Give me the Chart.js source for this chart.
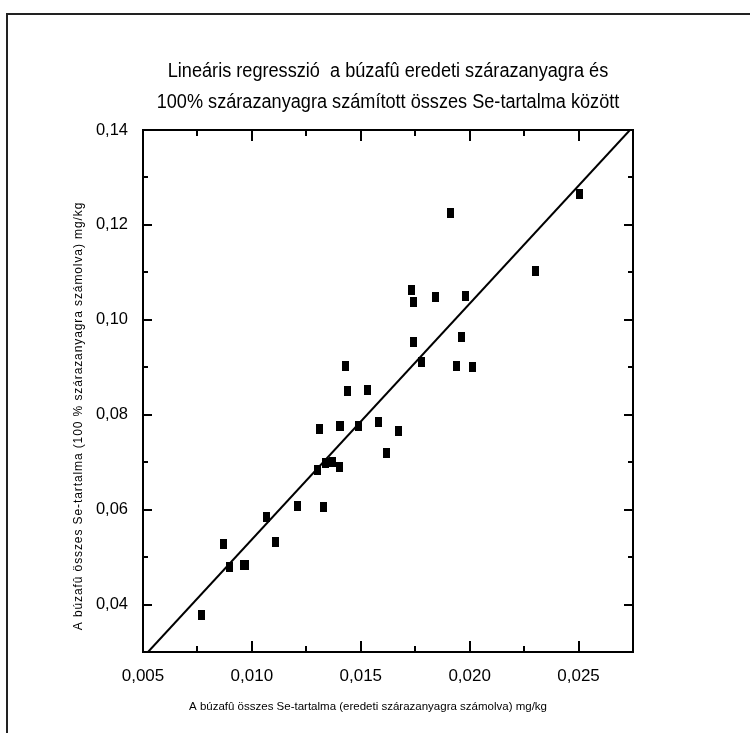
<!DOCTYPE html>
<html>
<head>
<meta charset="utf-8">
<script src="https://cdn.jsdelivr.net/npm/chart.js@4/dist/chart.umd.min.js"></script>
<style>
  html, body { margin: 0; padding: 0; background: #fff; }
  #c { display: block; }
</style>
</head>
<body>
<canvas id="c" width="750" height="733"></canvas>
<script>
// ---- data ----
const titleLines = [
  "Lineáris regresszió  a búzafû eredeti szárazanyagra és",
  "100% szárazanyagra számított összes Se-tartalma között"
];
const xAxisTitle = "A búzafû összes Se-tartalma (eredeti szárazanyagra számolva) mg/kg";
const yAxisTitle = "A búzafû összes Se-tartalma (100 % szárazanyagra számolva) mg/kg";

const xValues = [0.00770,0.00871,0.00896,0.00961,0.00970,0.01069,0.01108,0.01210,0.01299,0.01311,
                 0.01330,0.01340,0.01371,0.01400,0.01401,0.01409,0.01432,0.01440,0.01490,0.01532,
                 0.01580,0.01620,0.01672,0.01731,0.01741,0.01741,0.01781,0.01842,0.01910,0.01940,
                 0.01963,0.01982,0.02012,0.02303,0.02503];
const yValues = [0.0377,0.0527,0.0480,0.0483,0.0483,0.0585,0.0532,0.0608,0.0684,0.0769,
                 0.0605,0.0698,0.0700,0.0689,0.0776,0.0777,0.0903,0.0850,0.0776,0.0852,
                 0.0785,0.0720,0.0766,0.1063,0.1038,0.0954,0.0911,0.1048,0.1226,0.0903,
                 0.0963,0.1051,0.0900,0.1103,0.1265];

const fitX = [0.00523, 0.02736];
const fitY = [0.030, 0.140];

const xMajorTicks = [0.005, 0.010, 0.015, 0.020, 0.025];
const xMinorTicks = [0.0075, 0.0125, 0.0175, 0.0225];
const yMajorTicks = [0.04, 0.06, 0.08, 0.10, 0.12, 0.14];
const yMinorTicks = [0.05, 0.07, 0.09, 0.11, 0.13];

// ---- marker: small upright black rectangle ----
const marker = document.createElement('canvas');
marker.width = 7; marker.height = 10;
{ const m = marker.getContext('2d'); m.fillStyle = '#000'; m.fillRect(0, 0, 7, 10); }

const points = xValues.map((x, i) => ({ x: x, y: yValues[i] }));
const fitLine = fitX.map((x, i) => ({ x: x, y: fitY[i] }));

const FONT = "'Liberation Sans', Arial, sans-serif";

const decor = {
  id: 'decor',
  beforeDraw(chart) {
    const ctx = chart.ctx;
    ctx.save();
    ctx.fillStyle = '#fff';
    ctx.fillRect(0, 0, chart.width, chart.height);
    // outer frame
    ctx.strokeStyle = '#222';
    ctx.lineWidth = 2;
    ctx.strokeRect(7, 14, 800, 800);
    // title (slightly condensed)
    ctx.fillStyle = '#000';
    ctx.textAlign = 'center';
    ctx.textBaseline = 'alphabetic';
    ctx.save();
    ctx.translate(388, 0);
    ctx.scale(0.93, 1);
    ctx.font = "19.5px " + FONT;
    ctx.fillText(titleLines[0], 0, 77);
    ctx.fillText(titleLines[1], 0, 108);
    ctx.restore();
    // x axis title
    ctx.font = "11.5px " + FONT;
    ctx.fillText(xAxisTitle, 368, 710);
    // y axis title (rotated, letter-spaced)
    ctx.translate(82, 416);
    ctx.rotate(-Math.PI / 2);
    if ('letterSpacing' in ctx) ctx.letterSpacing = '0.9px';
    ctx.font = "12px " + FONT;
    ctx.fillText(yAxisTitle, 0, 0);
    ctx.restore();
  },
  afterDraw(chart) {
    const ctx = chart.ctx;
    const a = chart.chartArea;
    const xs = chart.scales.x, ys = chart.scales.y;
    ctx.save();
    ctx.strokeStyle = '#000';
    ctx.lineWidth = 2;
    ctx.beginPath();
    const tick = (vals, len, isX) => {
      vals.forEach(v => {
        if (isX) {
          const p = Math.round(xs.getPixelForValue(v));
          ctx.moveTo(p, a.bottom); ctx.lineTo(p, a.bottom - len);
          ctx.moveTo(p, a.top); ctx.lineTo(p, a.top + len);
        } else {
          const p = Math.round(ys.getPixelForValue(v));
          ctx.moveTo(a.left, p); ctx.lineTo(a.left + len, p);
          ctx.moveTo(a.right, p); ctx.lineTo(a.right - len, p);
        }
      });
    };
    tick(xMajorTicks, 11, true);
    tick(xMinorTicks, 6, true);
    tick(yMajorTicks, 9, false);
    tick(yMinorTicks, 5, false);
    ctx.stroke();
    ctx.strokeRect(a.left, a.top, a.right - a.left, a.bottom - a.top);
    ctx.restore();
  }
};

new Chart(document.getElementById('c'), {
  type: 'scatter',
  data: {
    datasets: [
      {
        label: 'fit',
        type: 'line',
        data: fitLine,
        borderColor: '#000',
        borderWidth: 2,
        pointRadius: 0,
        fill: false,
        showLine: true,
        clip: 0
      },
      {
        label: 'data',
        data: points,
        pointStyle: marker,
        pointRadius: 5,
        backgroundColor: '#000',
        borderColor: '#000'
      }
    ]
  },
  options: {
    responsive: false,
    animation: false,
    devicePixelRatio: 1,
    layout: { padding: { top: 130, right: 117, left: 0, bottom: 0 } },
    plugins: {
      legend: { display: false },
      title: { display: false },
      tooltip: { enabled: false }
    },
    scales: {
      x: {
        type: 'linear',
        min: 0.005,
        max: 0.0275,
        grid: { display: false },
        border: { display: false },
        ticks: {
          stepSize: 0.005,
          includeBounds: false,
          autoSkip: false,
          maxRotation: 0,
          color: '#000',
          padding: 6,
          font: { size: 17, family: FONT },
          callback: v => v.toFixed(3).replace('.', ',')
        },
        afterFit: s => { s.height = 81; }
      },
      y: {
        type: 'linear',
        min: 0.03,
        max: 0.14,
        grid: { display: false },
        border: { display: false },
        ticks: {
          stepSize: 0.02,
          includeBounds: false,
          autoSkip: false,
          color: '#000',
          padding: 7,
          font: { size: 16.5, family: FONT },
          callback: v => v.toFixed(2).replace('.', ',')
        },
        afterFit: s => { s.width = 143; }
      }
    }
  },
  plugins: [decor]
});
</script>
</body>
</html>
